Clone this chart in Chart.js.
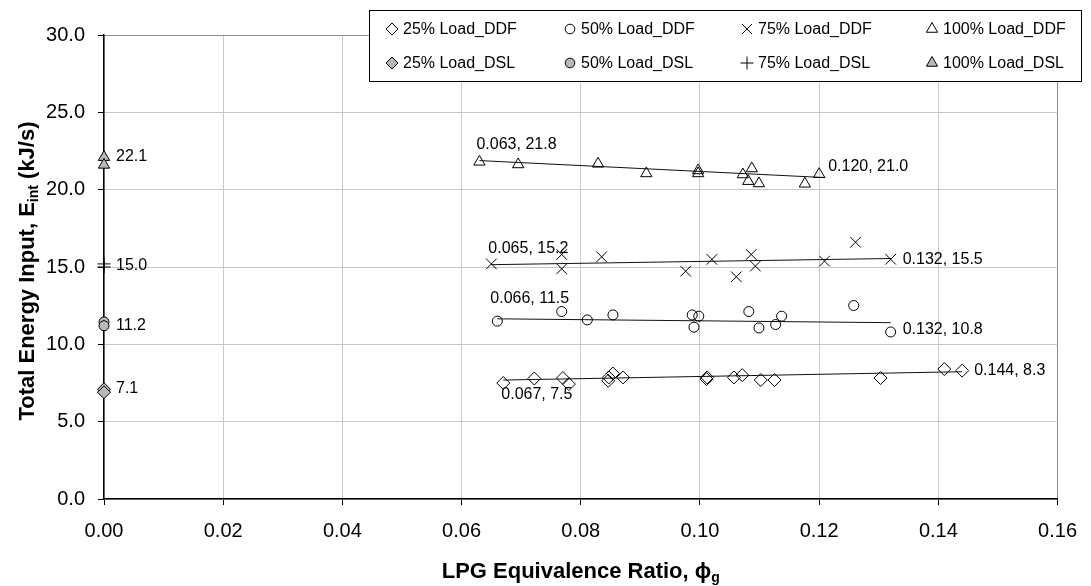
<!DOCTYPE html>
<html>
<head>
<meta charset="utf-8">
<script src="https://cdn.jsdelivr.net/npm/chart.js@4.4.1/dist/chart.umd.min.js"></script>
<style>
  html, body { margin: 0; padding: 0; background: #ffffff; }
  #wrap { width: 1091px; height: 586px; }
</style>
</head>
<body>
<div id="wrap"><canvas id="c" width="1091" height="586"></canvas></div>
<script>
// LPG equivalence ratio (phi) and total energy input (kJ/s), dual-fuel (DDF) runs
const phi25DDF = [0.067, 0.0722, 0.0770, 0.0780, 0.0846, 0.0847, 0.0854, 0.0871, 0.1011, 0.1012, 0.1057, 0.1071, 0.1102, 0.1125, 0.1303, 0.141, 0.144];
const e25DDF   = [7.5,   7.79,   7.82,   7.43,   7.64,   7.86,   8.11,   7.86,   7.75,   7.86,   7.86,   8.01,   7.69,   7.69,   7.82,   8.4,   8.3];

const phi50DDF = [0.066, 0.0768, 0.0811, 0.0854, 0.0987, 0.0998, 0.0990, 0.1082, 0.1099, 0.1127, 0.1137, 0.1258, 0.132];
const e50DDF   = [11.5,  12.12,  11.58,  11.90,  11.90,  11.82,  11.11,  12.12,  11.06,  11.28,  11.82,  12.51,  10.8];

const phi75DDF = [0.065, 0.0768, 0.0768, 0.0835, 0.0976, 0.1020, 0.1086, 0.1093, 0.1061, 0.1209, 0.1261, 0.132];
const e75DDF   = [15.2,  15.81,  14.88,  15.66,  14.73,  15.49,  15.81,  15.06,  14.37,  15.38,  16.6,   15.5];

const phi100DDF = [0.063, 0.0695, 0.0829, 0.0910, 0.0997, 0.0997, 0.1072, 0.1087, 0.1081, 0.1099, 0.1176, 0.120];
const e100DDF   = [21.8,  21.63,  21.67,  21.05,  21.24,  21.05,  20.98,  21.37,  20.55,  20.40,  20.38,  21.0];

// diesel-only (DSL) runs, no LPG
const phiDSL  = [0, 0];
const e25DSL  = [7.1, 6.9];
const e50DSL  = [11.45, 11.2];
const e75DSL  = [15.2, 15.0];
const e100DSL = [22.1, 21.6];

// linear trend lines, start and end
const trendPhi25  = [0.067, 0.144];  const trendE25  = [7.69, 8.23];
const trendPhi50  = [0.066, 0.132];  const trendE50  = [11.65, 11.40];
const trendPhi75  = [0.065, 0.132];  const trendE75  = [15.15, 15.55];
const trendPhi100 = [0.063, 0.121];  const trendE100 = [21.88, 20.78];

// axis ticks
const xTicks = [0, 0.02, 0.04, 0.06, 0.08, 0.10, 0.12, 0.14, 0.16];
const yTicks = [0, 5, 10, 15, 20, 25, 30];

const seriesNames = ['25% Load_DDF', '50% Load_DDF', '75% Load_DDF', '100% Load_DDF',
                     '25% Load_DSL', '50% Load_DSL', '75% Load_DSL', '100% Load_DSL'];

const FONT = '"Liberation Sans", Arial, Helvetica, sans-serif';
const DSL_FILL = '#b8b8b8';

const pts = (xs, ys) => xs.map((x, i) => ({ x: x, y: ys[i] }));

const markerStyles = [
  { pointStyle: 'rectRot',  radius: 6.5, fill: 'rgba(0,0,0,0)' },
  { pointStyle: 'circle',   radius: 5,   fill: 'rgba(0,0,0,0)' },
  { pointStyle: 'crossRot', radius: 7.5, fill: 'rgba(0,0,0,0)' },
  { pointStyle: 'triangle', radius: 6.5, fill: 'rgba(0,0,0,0)' },
  { pointStyle: 'rectRot',  radius: 6.5, fill: DSL_FILL },
  { pointStyle: 'circle',   radius: 5,   fill: DSL_FILL },
  { pointStyle: 'cross',    radius: 6.5, fill: DSL_FILL },
  { pointStyle: 'triangle', radius: 6.5, fill: DSL_FILL }
];

const seriesData = [
  pts(phi25DDF, e25DDF), pts(phi50DDF, e50DDF), pts(phi75DDF, e75DDF), pts(phi100DDF, e100DDF),
  pts(phiDSL, e25DSL), pts(phiDSL, e50DSL), pts(phiDSL, e75DSL), pts(phiDSL, e100DSL)
];

const datasets = seriesData.map((d, k) => ({
  type: 'scatter',
  label: seriesNames[k],
  data: d,
  order: 0,
  clip: false,
  pointStyle: markerStyles[k].pointStyle,
  pointRadius: markerStyles[k].radius,
  pointBackgroundColor: markerStyles[k].fill,
  pointBorderColor: '#000000',
  pointBorderWidth: 1,
  showLine: false
}));

[[trendPhi25, trendE25], [trendPhi50, trendE50], [trendPhi75, trendE75], [trendPhi100, trendE100]]
  .forEach(([xs, ys]) => datasets.push({
    type: 'line',
    data: pts(xs, ys),
    order: 1,
    borderColor: '#111111',
    borderWidth: 1,
    pointRadius: 0,
    fill: false,
    tension: 0
  }));

// value labels next to selected points
const pointLabels = [
  { phi: phi100DDF, e: e100DDF, i: 0,  dx: -3, dy: -17 },
  { phi: phi100DDF, e: e100DDF, i: 11, dx: 9,  dy: -8 },
  { phi: phi75DDF,  e: e75DDF,  i: 0,  dx: -3, dy: -15 },
  { phi: phi75DDF,  e: e75DDF,  i: 11, dx: 12, dy: 0 },
  { phi: phi50DDF,  e: e50DDF,  i: 0,  dx: -7, dy: -23 },
  { phi: phi50DDF,  e: e50DDF,  i: 12, dx: 12, dy: -2 },
  { phi: phi25DDF,  e: e25DDF,  i: 0,  dx: -2, dy: 12 },
  { phi: phi25DDF,  e: e25DDF,  i: 16, dx: 12, dy: 0 },
  { phi: phiDSL,    e: e100DSL, i: 0,  dx: 12, dy: -1 },
  { phi: phiDSL,    e: e75DSL,  i: 1,  dx: 12, dy: -1 },
  { phi: phiDSL,    e: e50DSL,  i: 1,  dx: 12, dy: 0 },
  { phi: phiDSL,    e: e25DSL,  i: 0,  dx: 12, dy: -1 }
];

const canvasBackground = {
  id: 'canvasBackground',
  beforeDraw(chart) {
    const ctx = chart.ctx;
    ctx.save();
    ctx.fillStyle = '#ffffff';
    ctx.fillRect(0, 0, chart.width, chart.height);
    ctx.restore();
  }
};

const valueLabels = {
  id: 'valueLabels',
  afterDatasetsDraw(chart) {
    const ctx = chart.ctx;
    const xs = chart.scales.x, ys = chart.scales.y;
    ctx.save();
    ctx.font = '16px ' + FONT;
    ctx.fillStyle = '#000000';
    ctx.textAlign = 'left';
    ctx.textBaseline = 'middle';
    pointLabels.forEach(l => {
      const p = l.phi[l.i], v = l.e[l.i];
      const txt = p > 0 ? p.toFixed(3) + ', ' + v.toFixed(1) : v.toFixed(1);
      ctx.fillText(txt, xs.getPixelForValue(p) + l.dx, ys.getPixelForValue(v) + l.dy);
    });
    ctx.restore();
  }
};

// boxed two-row legend
const boxLegend = {
  id: 'boxLegend',
  afterDraw(chart) {
    const ctx = chart.ctx;
    const box = { l: 369.5, t: 10.5, w: 712, h: 71 };
    const cols = [392, 570, 747, 932];
    const rows = [29, 63];
    const legendRadius = [6, 4.8, 7, 6.5, 6, 4.8, 6.5, 6.5];
    ctx.save();
    ctx.fillStyle = '#ffffff';
    ctx.fillRect(box.l, box.t, box.w, box.h);
    ctx.strokeStyle = '#000000';
    ctx.lineWidth = 1;
    ctx.strokeRect(box.l, box.t, box.w, box.h);
    ctx.font = '16px ' + FONT;
    ctx.textBaseline = 'middle';
    ctx.textAlign = 'left';
    seriesNames.forEach((name, k) => {
      const cx = cols[k % 4], cy = rows[Math.floor(k / 4)];
      ctx.fillStyle = markerStyles[k].fill;
      ctx.strokeStyle = '#000000';
      ctx.lineWidth = 1;
      Chart.helpers.drawPoint(ctx, {
        pointStyle: markerStyles[k].pointStyle,
        radius: legendRadius[k],
        rotation: 0,
        borderWidth: 1
      }, cx, cy);
      ctx.fillStyle = '#000000';
      ctx.fillText(name, cx + 11, cy + 1);
    });
    ctx.restore();
  }
};

// axis titles with subscripts
const axisTitles = {
  id: 'axisTitles',
  afterDraw(chart) {
    const ctx = chart.ctx;
    const area = chart.chartArea;
    const big = 'bold 22px ' + FONT;
    const small = 'bold 14px ' + FONT;
    const drawRun = (parts, cx, baseY) => {
      let total = 0;
      parts.forEach(p => { ctx.font = p.f; total += ctx.measureText(p.t).width; });
      let x = cx - total / 2;
      parts.forEach(p => {
        ctx.font = p.f;
        ctx.fillText(p.t, x, baseY + p.dy);
        x += ctx.measureText(p.t).width;
      });
    };
    ctx.save();
    ctx.fillStyle = '#000000';
    ctx.textAlign = 'left';
    ctx.textBaseline = 'alphabetic';

    // y title
    ctx.save();
    ctx.translate(34, (area.top + area.bottom) / 2 + 4);
    ctx.rotate(-Math.PI / 2);
    drawRun([
      { t: 'Total Energy Input, E', f: big, dy: 0 },
      { t: 'int', f: small, dy: 4 },
      { t: ' (kJ/s)', f: big, dy: 0 }
    ], 0, 0);
    ctx.restore();

    // x title
    drawRun([
      { t: 'LPG Equivalence Ratio, ', f: big, dy: 0 },
      { t: '\u03D5', f: big, dy: 0 },
      { t: 'g', f: small, dy: 4 }
    ], (area.left + area.right) / 2, 578);

    ctx.restore();
  }
};

new Chart(document.getElementById('c'), {
  type: 'scatter',
  data: { datasets: datasets },
  plugins: [canvasBackground, valueLabels, boxLegend, axisTitles],
  options: {
    responsive: false,
    devicePixelRatio: 1,
    animation: false,
    layout: { padding: { top: 35, right: 33, bottom: 0, left: 0 } },
    plugins: {
      legend: { display: false },
      tooltip: { enabled: false },
      title: { display: false }
    },
    scales: {
      x: {
        type: 'linear',
        position: 'bottom',
        min: 0,
        max: 0.16,
        afterBuildTicks: s => { s.ticks = xTicks.map(v => ({ value: v })); },
        afterFit: s => { s.height = 87; },
        ticks: {
          callback: v => Number(v).toFixed(2),
          font: { family: FONT, size: 20 },
          color: '#000000',
          padding: 14,
          maxRotation: 0,
          autoSkip: false
        },
        grid: {
          color: c => (c.tick && Math.abs(c.tick.value - 0.16) < 1e-9) ? '#8c8c8c' : '#c8c8c8',
          lineWidth: 1,
          tickLength: 6,
          tickColor: '#000000',
          drawTicks: true
        },
        border: { color: '#000000', width: 1.5 }
      },
      y: {
        type: 'linear',
        position: 'left',
        min: 0,
        max: 30,
        afterBuildTicks: s => { s.ticks = yTicks.map(v => ({ value: v })); },
        afterFit: s => { s.width = 104; },
        ticks: {
          callback: v => Number(v).toFixed(1),
          font: { family: FONT, size: 20 },
          color: '#000000',
          padding: 13
        },
        grid: {
          color: c => (c.tick && c.tick.value === 30) ? '#8c8c8c' : '#c8c8c8',
          lineWidth: 1,
          tickLength: 6,
          tickColor: '#000000',
          drawTicks: true
        },
        border: { color: '#000000', width: 1.5 }
      }
    }
  }
});
</script>
</body>
</html>
